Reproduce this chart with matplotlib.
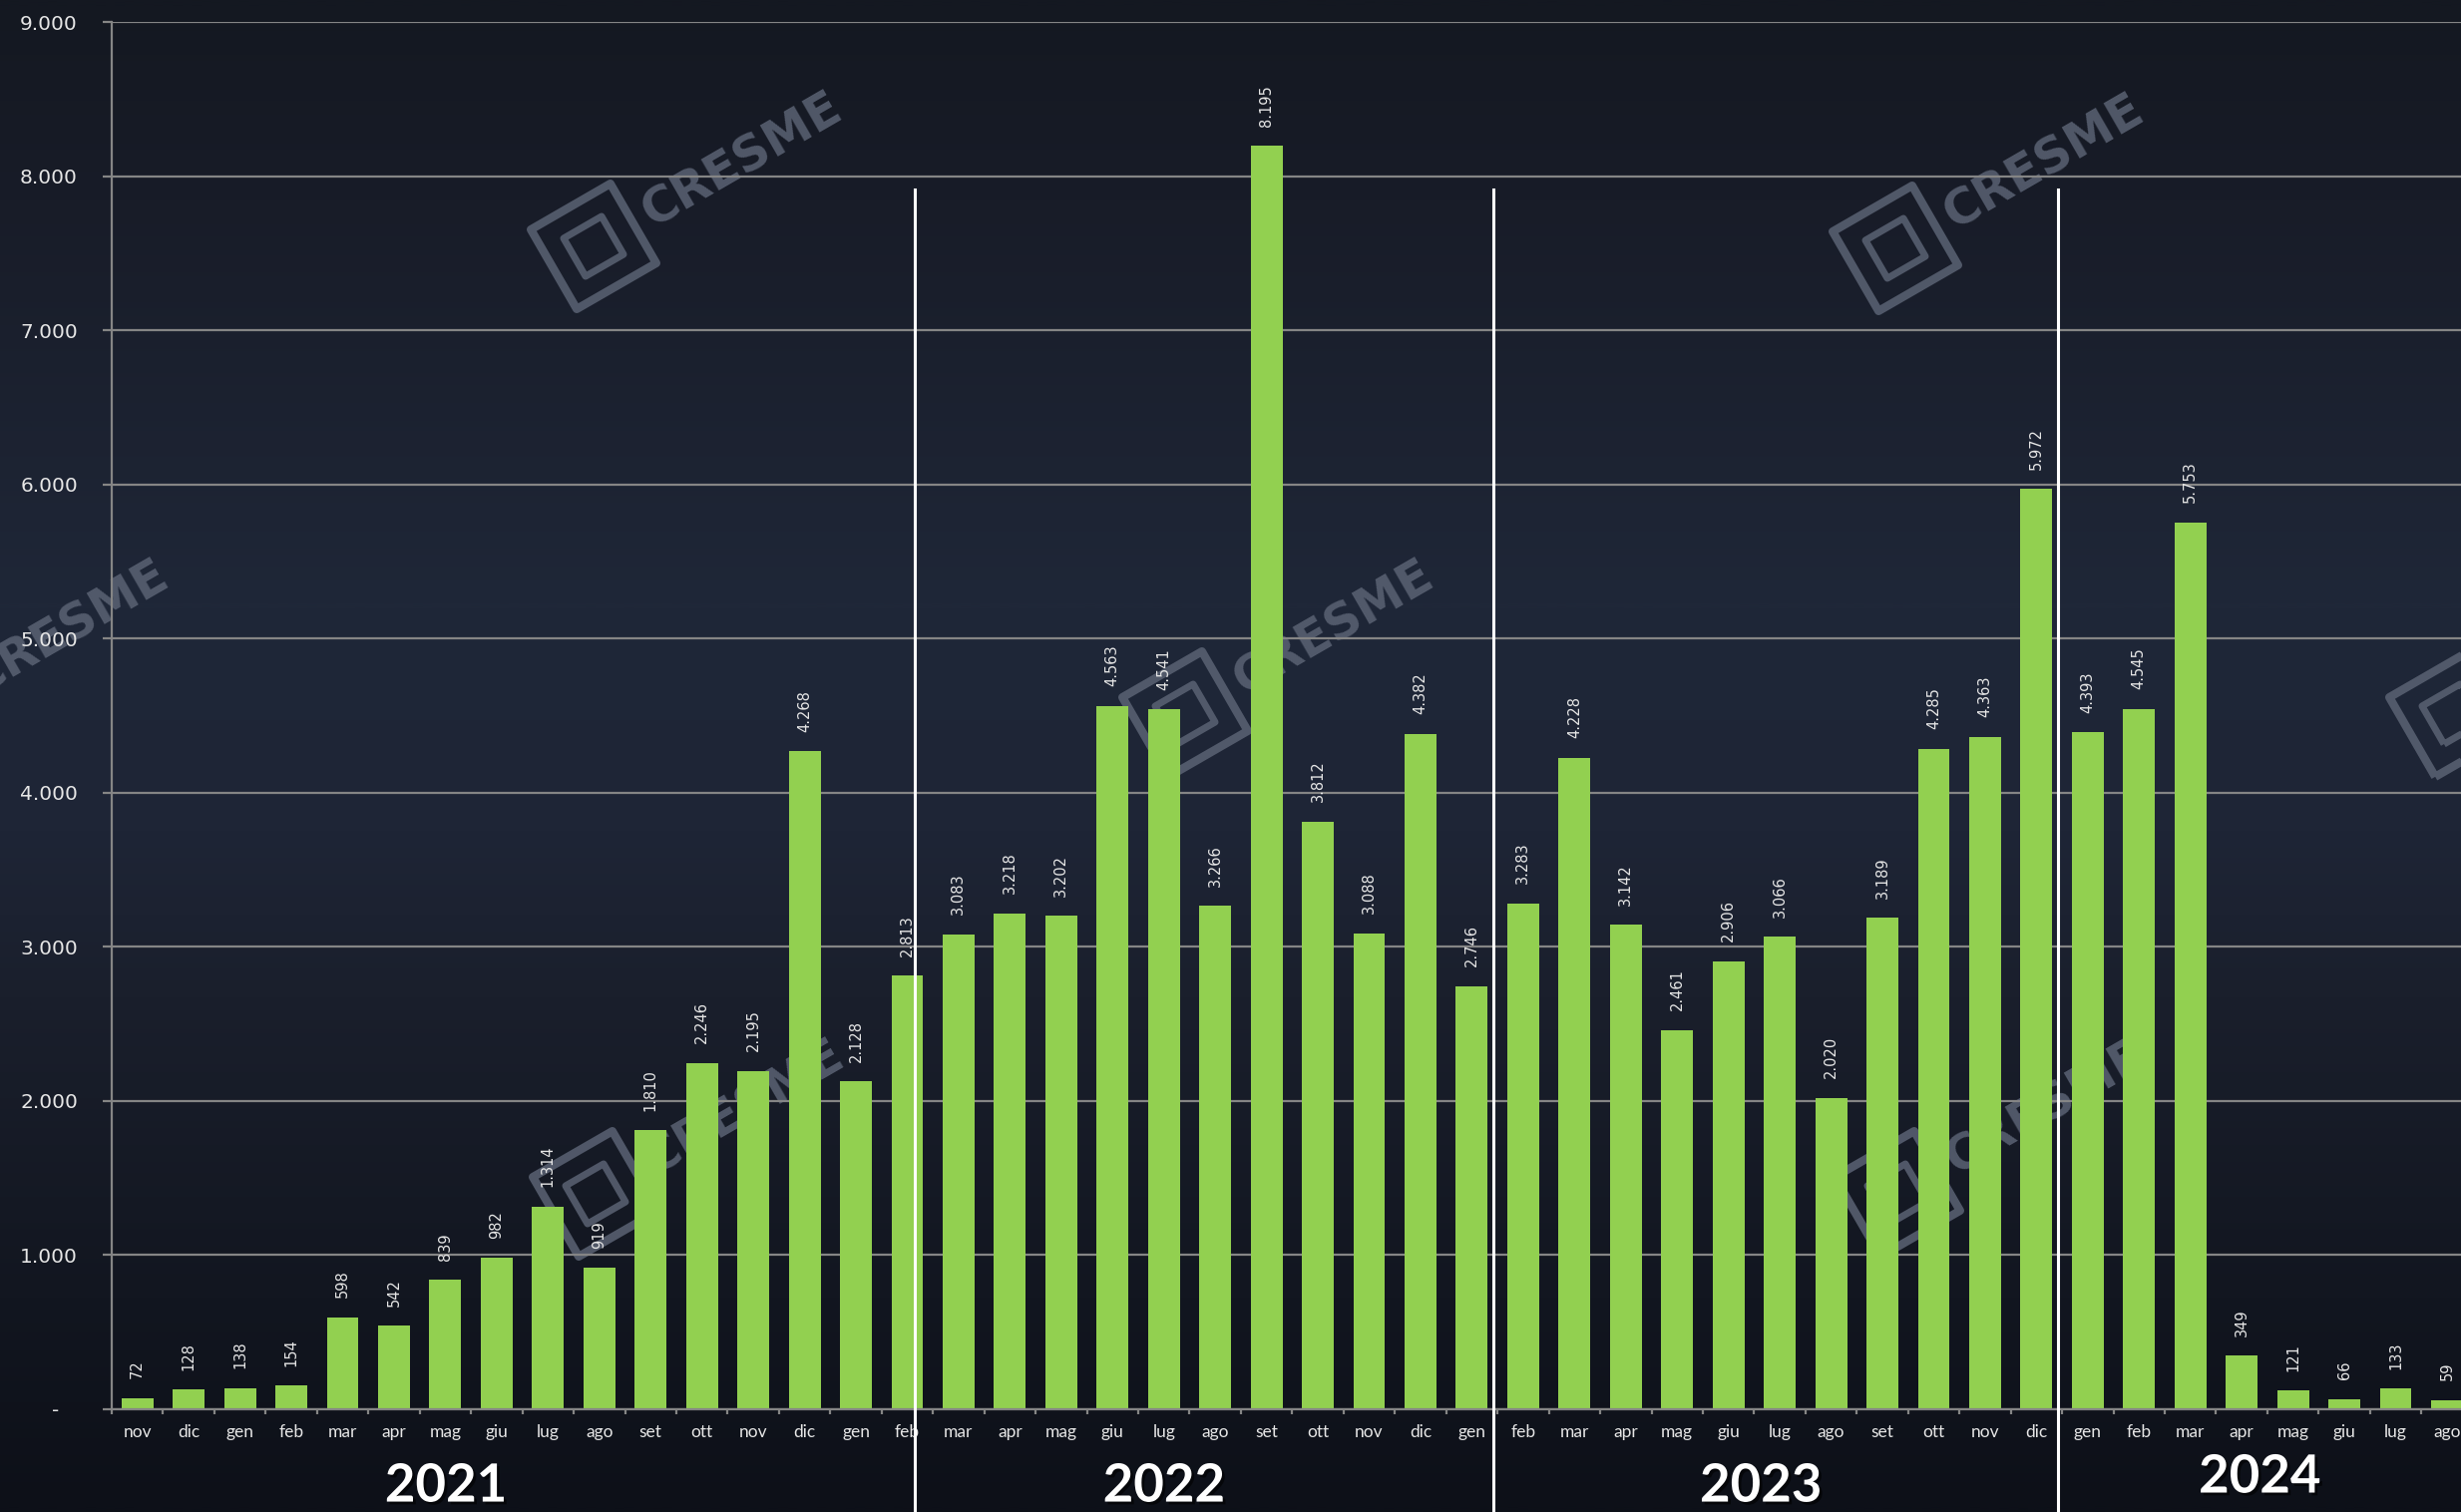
import matplotlib
matplotlib.use('Agg')
import matplotlib.pyplot as plt
import matplotlib.patheffects as pe
from matplotlib.colors import LinearSegmentedColormap
from matplotlib.patches import Polygon
from matplotlib.ticker import FixedLocator, FuncFormatter
import numpy as np

# data (monthly counts, Nov 2020 - Aug 2024)
months = ['nov', 'dic', 'gen', 'feb', 'mar', 'apr', 'mag', 'giu', 'lug', 'ago',
          'set', 'ott', 'nov', 'dic', 'gen', 'feb',
          'mar', 'apr', 'mag', 'giu', 'lug', 'ago', 'set', 'ott', 'nov', 'dic', 'gen',
          'feb', 'mar', 'apr', 'mag', 'giu', 'lug', 'ago', 'set', 'ott', 'nov', 'dic',
          'gen', 'feb', 'mar', 'apr', 'mag', 'giu', 'lug', 'ago']
values = [72, 128, 138, 154, 598, 542, 839, 982, 1314, 919,
          1810, 2246, 2195, 4268, 2128, 2813,
          3083, 3218, 3202, 4563, 4541, 3266, 8195, 3812, 3088, 4382, 2746,
          3283, 4228, 3142, 2461, 2906, 3066, 2020, 3189, 4285, 4363, 5972,
          4393, 4545, 5753, 349, 121, 66, 133, 59]
years = ['2021', '2022', '2023', '2024']
year_pos = [6.01, 20.0, 31.63, 41.35]
sep_pos = [15.15, 26.42, 37.42]

W, H = 2467, 1516
fig = plt.figure(figsize=(W / 100, H / 100), dpi=100)

# background gradient
bg = fig.add_axes([0, 0, 1, 1])
bg.axis('off')
stops = [(0.0, '#141821'), (0.13, '#181c28'), (0.40, '#1f2738'), (0.55, '#1e2536'),
         (0.66, '#1a1f2c'), (0.86, '#121620'), (1.0, '#0d1018')]
cmap = LinearSegmentedColormap.from_list('bgrad', stops)
bg.imshow(np.linspace(0, 1, 600).reshape(-1, 1), aspect='auto', cmap=cmap,
          extent=(0, 1, 0, 1), interpolation='bilinear')
bg.set_xlim(0, 1)
bg.set_ylim(0, 1)

# watermarks
wm_color = '#5b6374'


def watermark(cx, cy):
    # cx, cy: logo centre in pixels, y from the top
    X, Y = cx, H - cy
    th = np.deg2rad(30)
    rot = np.array([[np.cos(th), -np.sin(th)], [np.sin(th), np.cos(th)]])
    for s, lw in [(92, 6), (44, 5)]:
        pts = np.array([[-s, -s], [s, -s], [s, s], [-s, s]]) / 2.0
        pts = pts @ rot.T + [X, Y]
        pts = pts / [W, H]
        bg.add_patch(Polygon(pts, closed=True, fill=False, ec=wm_color, lw=lw,
                             joinstyle='round', alpha=0.85))
    tx = X + 172 * np.cos(th)
    ty = Y + 172 * np.sin(th)
    bg.text(tx / W, ty / H, 'CRESME', rotation=30, rotation_mode='anchor',
            ha='center', va='center', fontsize=35, fontweight='bold',
            color=wm_color, alpha=0.85, family='DejaVu Sans')


for cx, cy in [(595, 247), (1900, 249), (-80, 716), (1188, 716), (2458, 716),
               (597, 1197), (1902, 1197)]:
    watermark(cx, cy)

# main chart
cat_w = 51.45
ax = fig.add_axes([112 / W, 1 - 1413 / H, 46 * cat_w / W, (1413 - 22) / H])
ax.set_facecolor('none')
x = np.arange(len(values))
ax.bar(x, values, width=0.62, color='#92d050', zorder=2)
ax.set_xlim(-0.5, 45.5)
ax.set_ylim(0, 9000)

grid_c = '#858585'
ax.yaxis.set_major_locator(FixedLocator(range(0, 9001, 1000)))
ax.yaxis.set_major_formatter(FuncFormatter(
    lambda v, p: '-   ' if v == 0 else f'{int(v):,}'.replace(',', '.')))
ax.grid(axis='y', color=grid_c, lw=1.6)
ax.set_axisbelow(True)
for sp in ['top', 'right']:
    ax.spines[sp].set_visible(False)
for sp in ['left', 'bottom']:
    ax.spines[sp].set_color(grid_c)
    ax.spines[sp].set_linewidth(1.6)
ax.tick_params(axis='y', length=6.5, width=1.6, color=grid_c, pad=18,
               labelsize=14.5, labelcolor='#e6e6e6')

ax.set_xticks(x)
ax.set_xticklabels(months, family='Lato', fontsize=12.5, color='#e6e6e6')
ax.set_xticks(np.arange(-0.5, 46, 1), minor=True)
ax.tick_params(axis='x', which='major', length=0, pad=11)
ax.tick_params(axis='x', which='minor', length=3.6, width=1.6, color=grid_c)

for i, v in enumerate(values):
    ax.annotate(f'{v:,}'.replace(',', '.'), (i, v), xytext=(0, 14),
                textcoords='offset points', rotation=90, ha='center', va='bottom',
                fontsize=10.5, color='#e6e6e6', zorder=3, annotation_clip=False)

tr = ax.get_xaxis_transform()
for s in sep_pos:
    ax.plot([s, s], [-0.09, 7913 / 9000], transform=tr, color='white', lw=2.2,
            clip_on=False, zorder=4)

for yr, px in zip(years, year_pos):
    yy = -0.0489 if yr == '2024' else -0.0554
    ax.text(px, yy, yr, transform=tr, ha='center', va='center', family='Lato',
            fontweight='bold', fontsize=38, color='white', clip_on=False,
            path_effects=[pe.withSimplePatchShadow(offset=(2, -2), shadow_rgbFace='black',
                                                   alpha=0.6)])

fig.savefig('out.png', dpi=100)
